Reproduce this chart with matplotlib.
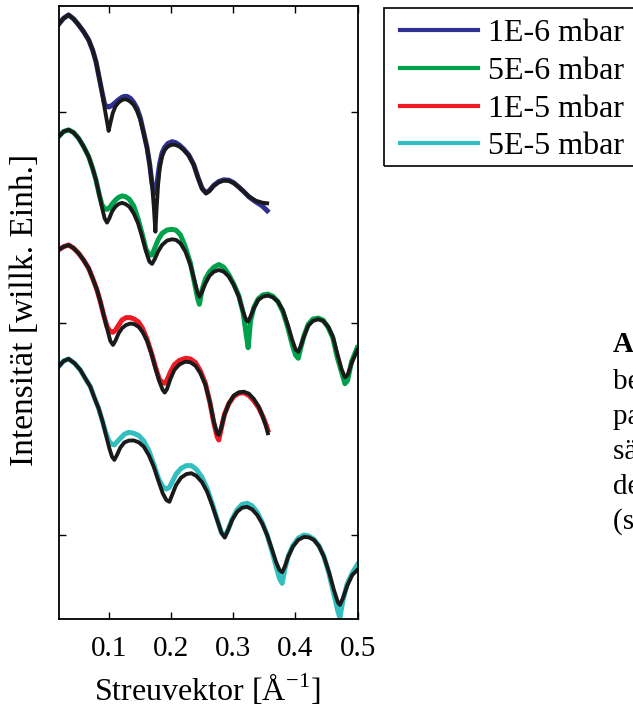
import numpy as np
import matplotlib
matplotlib.use('Agg')
import matplotlib.pyplot as plt
from matplotlib.patches import Rectangle
from matplotlib.ticker import FixedLocator, NullLocator, NullFormatter

plt.rcParams['font.family'] = 'Liberation Serif'
plt.rcParams['mathtext.fontset'] = 'custom'
plt.rcParams['mathtext.rm'] = 'Liberation Serif'

# scattering vector [1/A] and log10 intensity (curves offset per pressure)
q1 = [0.0197, 0.0277, 0.0357, 0.0438, 0.0518, 0.0598, 0.0679, 0.0743, 0.0797, 0.0850,
      0.0893, 0.0936, 0.0974, 0.1000, 0.1027, 0.1065, 0.1108, 0.1161, 0.1215, 0.1252,
      0.1295, 0.1349, 0.1402, 0.1456, 0.1510, 0.1563, 0.1617, 0.1660, 0.1697, 0.1724,
      0.1751, 0.1767, 0.1794, 0.1820, 0.1858, 0.1901, 0.1954, 0.2019, 0.2072, 0.2137,
      0.2206, 0.2287, 0.2367, 0.2437, 0.2501, 0.2565, 0.2619, 0.2689, 0.2769, 0.2849,
      0.2930, 0.3010, 0.3091, 0.3171, 0.3251, 0.3358, 0.3466, 0.3546]
fit1 = [0.413, 0.441, 0.457, 0.438, 0.410, 0.378, 0.339, 0.291, 0.236, 0.158,
        0.094, 0.016, -0.047, -0.091, -0.055, -0.008, 0.024, 0.044, 0.055, 0.058,
        0.057, 0.047, 0.032, 0.003, -0.039, -0.102, -0.173, -0.252, -0.346, -0.441,
        -0.567, -0.472, -0.346, -0.268, -0.212, -0.181, -0.164, -0.156, -0.157, -0.165,
        -0.181, -0.208, -0.252, -0.315, -0.365, -0.386, -0.375, -0.351, -0.334, -0.326,
        -0.327, -0.338, -0.357, -0.378, -0.400, -0.420, -0.430, -0.433]
meas1 = [0.413, 0.441, 0.457, 0.438, 0.410, 0.378, 0.339, 0.291, 0.236, 0.158,
         0.094, 0.035, 0.024, 0.022, 0.025, 0.032, 0.043, 0.057, 0.068, 0.072,
         0.072, 0.063, 0.044, 0.016, -0.031, -0.100, -0.170, -0.250, -0.340, -0.372,
         -0.386, -0.360, -0.300, -0.245, -0.195, -0.168, -0.150, -0.142, -0.146, -0.158,
         -0.177, -0.205, -0.250, -0.312, -0.362, -0.384, -0.372, -0.348, -0.330, -0.322,
         -0.324, -0.336, -0.356, -0.378, -0.402, -0.425, -0.445, -0.468]

q2 = [0.0197, 0.0277, 0.0357, 0.0438, 0.0518, 0.0598, 0.0679, 0.0743, 0.0797, 0.0850,
      0.0893, 0.0936, 0.0974, 0.1011, 0.1054, 0.1108, 0.1161, 0.1215, 0.1268, 0.1333,
      0.1402, 0.1472, 0.1536, 0.1601, 0.1654, 0.1697, 0.1740, 0.1794, 0.1858, 0.1938,
      0.2019, 0.2083, 0.2153, 0.2233, 0.2313, 0.2383, 0.2431, 0.2458, 0.2501, 0.2555,
      0.2619, 0.2689, 0.2769, 0.2849, 0.2930, 0.3010, 0.3091, 0.3160, 0.3208, 0.3241,
      0.3278, 0.3332, 0.3401, 0.3476, 0.3557, 0.3637, 0.3718, 0.3798, 0.3878, 0.3948,
      0.4002, 0.4045, 0.4082, 0.4136, 0.4205, 0.4280, 0.4366, 0.4446, 0.4527, 0.4602,
      0.4671, 0.4741, 0.4795, 0.4838, 0.4902, 0.4993]
fit2 = [-0.118, -0.094, -0.086, -0.099, -0.126, -0.165, -0.212, -0.268, -0.323, -0.393,
        -0.452, -0.504, -0.524, -0.504, -0.472, -0.449, -0.436, -0.431, -0.436, -0.449,
        -0.480, -0.527, -0.590, -0.661, -0.708, -0.719, -0.697, -0.661, -0.630, -0.609,
        -0.603, -0.606, -0.622, -0.661, -0.724, -0.803, -0.858, -0.874, -0.850, -0.811,
        -0.776, -0.756, -0.748, -0.756, -0.779, -0.819, -0.874, -0.945, -0.984, -0.992,
        -0.968, -0.929, -0.890, -0.874, -0.869, -0.877, -0.897, -0.937, -1.008, -1.078,
        -1.123, -1.134, -1.110, -1.063, -1.012, -0.989, -0.981, -0.989, -1.016, -1.063,
        -1.141, -1.217, -1.255, -1.244, -1.189, -1.126]
meas2 = [-0.118, -0.094, -0.086, -0.099, -0.126, -0.165, -0.212, -0.268, -0.323, -0.393,
         -0.440, -0.457, -0.462, -0.455, -0.437, -0.418, -0.405, -0.398, -0.401, -0.414,
         -0.445, -0.505, -0.575, -0.650, -0.677, -0.677, -0.645, -0.606, -0.575, -0.559,
         -0.556, -0.560, -0.582, -0.640, -0.715, -0.815, -0.885, -0.910, -0.840, -0.790,
         -0.757, -0.735, -0.722, -0.735, -0.770, -0.815, -0.870, -0.950, -1.050, -1.115,
         -0.990, -0.925, -0.885, -0.866, -0.862, -0.872, -0.897, -0.945, -1.020, -1.100,
         -1.150, -1.165, -1.120, -1.060, -1.005, -0.980, -0.975, -0.985, -1.020, -1.070,
         -1.160, -1.230, -1.285, -1.270, -1.180, -1.115]

q3 = [0.0197, 0.0277, 0.0357, 0.0438, 0.0518, 0.0598, 0.0679, 0.0743, 0.0813, 0.0866,
      0.0920, 0.0974, 0.1027, 0.1070, 0.1108, 0.1161, 0.1215, 0.1279, 0.1349, 0.1413,
      0.1483, 0.1547, 0.1617, 0.1686, 0.1751, 0.1815, 0.1869, 0.1901, 0.1938, 0.1992,
      0.2056, 0.2137, 0.2233, 0.2313, 0.2394, 0.2474, 0.2555, 0.2624, 0.2689, 0.2742,
      0.2769, 0.2806, 0.2860, 0.2930, 0.3010, 0.3091, 0.3171, 0.3251, 0.3331, 0.3412,
      0.3476, 0.3530, 0.3557]
fit3 = [-0.653, -0.638, -0.630, -0.645, -0.669, -0.701, -0.740, -0.787, -0.842, -0.897,
        -0.960, -1.023, -1.083, -1.102, -1.083, -1.047, -1.023, -1.008, -1.001, -1.004,
        -1.017, -1.042, -1.083, -1.142, -1.212, -1.275, -1.315, -1.327, -1.310, -1.263,
        -1.220, -1.194, -1.181, -1.184, -1.200, -1.236, -1.291, -1.370, -1.464, -1.519,
        -1.527, -1.496, -1.433, -1.378, -1.341, -1.326, -1.323, -1.332, -1.357, -1.394,
        -1.441, -1.488, -1.519]
meas3 = [-0.653, -0.638, -0.630, -0.645, -0.669, -0.701, -0.740, -0.787, -0.842, -0.897,
         -0.960, -1.015, -1.040, -1.042, -1.033, -1.008, -0.984, -0.973, -0.973, -0.980,
         -0.995, -1.025, -1.075, -1.138, -1.205, -1.265, -1.280, -1.283, -1.268, -1.230,
         -1.195, -1.175, -1.165, -1.168, -1.185, -1.225, -1.285, -1.370, -1.470, -1.535,
         -1.551, -1.500, -1.430, -1.380, -1.345, -1.330, -1.328, -1.340, -1.365, -1.400,
         -1.440, -1.480, -1.505]

q4 = [0.0197, 0.0277, 0.0357, 0.0454, 0.0545, 0.0625, 0.0706, 0.0775, 0.0840, 0.0904,
      0.0958, 0.1011, 0.1054, 0.1092, 0.1134, 0.1188, 0.1252, 0.1322, 0.1402, 0.1483,
      0.1563, 0.1644, 0.1724, 0.1804, 0.1869, 0.1928, 0.1976, 0.2019, 0.2083, 0.2163,
      0.2249, 0.2329, 0.2410, 0.2501, 0.2581, 0.2662, 0.2742, 0.2812, 0.2865, 0.2919,
      0.2983, 0.3064, 0.3144, 0.3224, 0.3305, 0.3385, 0.3466, 0.3546, 0.3627, 0.3691,
      0.3744, 0.3787, 0.3830, 0.3884, 0.3959, 0.4045, 0.4136, 0.4216, 0.4296, 0.4377,
      0.4457, 0.4537, 0.4618, 0.4682, 0.4714, 0.4762, 0.4832, 0.4912, 0.4993]
fit4 = [-1.204, -1.178, -1.168, -1.189, -1.220, -1.260, -1.299, -1.354, -1.402, -1.465,
        -1.528, -1.590, -1.630, -1.645, -1.622, -1.587, -1.563, -1.554, -1.553, -1.562,
        -1.582, -1.622, -1.677, -1.748, -1.803, -1.835, -1.843, -1.811, -1.764, -1.729,
        -1.712, -1.708, -1.721, -1.751, -1.795, -1.858, -1.929, -1.989, -2.012, -1.976,
        -1.929, -1.890, -1.871, -1.867, -1.879, -1.905, -1.945, -2.000, -2.071, -2.129,
        -2.165, -2.176, -2.149, -2.102, -2.055, -2.023, -2.009, -2.011, -2.023, -2.052,
        -2.102, -2.173, -2.260, -2.318, -2.330, -2.299, -2.239, -2.189, -2.165]
meas4 = [-1.204, -1.178, -1.168, -1.189, -1.220, -1.260, -1.299, -1.354, -1.402, -1.465,
         -1.520, -1.559, -1.571, -1.574, -1.560, -1.543, -1.524, -1.515, -1.519, -1.530,
         -1.555, -1.600, -1.665, -1.735, -1.771, -1.783, -1.775, -1.750, -1.712, -1.685,
         -1.672, -1.672, -1.690, -1.728, -1.780, -1.850, -1.925, -1.990, -2.005, -1.975,
         -1.925, -1.880, -1.855, -1.850, -1.862, -1.892, -1.940, -2.000, -2.080, -2.150,
         -2.205, -2.228, -2.160, -2.100, -2.050, -2.015, -2.000, -2.005, -2.020, -2.050,
         -2.100, -2.180, -2.280, -2.360, -2.390, -2.310, -2.230, -2.180, -2.140]

labels = ['1E-6 mbar', '5E-6 mbar', '1E-5 mbar', '5E-5 mbar']
colors = ['#2E3192', '#00A14B', '#ED1C24', '#33BFBF']
xticks = [0.1, 0.2, 0.3, 0.4, 0.5]

fig = plt.figure(figsize=(6.33, 7.07), dpi=100)
ax = fig.add_axes([59 / 633, 1 - 619.3 / 707, 298.7 / 633, 613.3 / 707])

for q, meas, fit, c, lab in zip([q1, q2, q3, q4], [meas1, meas2, meas3, meas4],
                                [fit1, fit2, fit3, fit4], colors, labels):
    ax.plot(q, 10 ** np.array(meas), color=c, lw=3.6, label=lab)
    ax.plot(q, 10 ** np.array(fit), color='#1a1a1a', lw=2.8)

ax.set_yscale('log')
ax.set_xlim(0.0203, 0.5)
ax.set_ylim(10 ** -2.398, 10 ** 0.499)
ax.set_xticks(xticks)
ax.set_xticklabels([str(t) for t in xticks])
ax.yaxis.set_major_locator(FixedLocator([1, 0.1, 0.01]))
ax.yaxis.set_minor_locator(NullLocator())
ax.yaxis.set_major_formatter(NullFormatter())
ax.tick_params(direction='in', top=True, right=True, length=5, width=1,
               labelsize=21, pad=12)
for s in ax.spines.values():
    s.set_linewidth(1.3)

fig.text(207 / 633, 1 - 690 / 707, 'Streuvektor [Å$^{-1}$]',
         ha='center', va='center', fontsize=23)
fig.text(25 / 633, 1 - 310 / 707, 'Intensität [willk. Einh.]', rotation=90,
         ha='center', va='center', fontsize=24)

# legend entries without frame; the box runs past the right edge
leg = fig.legend(loc='upper left', bbox_to_anchor=(400 / 633, 1 - 19 / 707),
                 bbox_transform=fig.transFigure, borderaxespad=0, borderpad=0,
                 fontsize=23, frameon=False, handlelength=2.45,
                 handletextpad=0.31, labelspacing=0.26)
for line in leg.get_lines():
    line.set_linewidth(3.0)
fig.add_artist(Rectangle((384 / 633, 1 - 166 / 707), 300 / 633, 158 / 707,
                         transform=fig.transFigure, fill=False,
                         edgecolor='black', lw=1.2))

# caption running off the right edge
fig.text(613 / 633, 1 - 345 / 707, 'Abbildung 5.4: Röntgenreflektivität',
         fontweight='bold', va='center', fontsize=21)
caption = ['bei verschiedenen Sauerstoff-', 'partialdrücken. Die Schichtdicke',
           'sättigt sich mit steigendem Druck,', 'der Fit beschreibt die Daten gut',
           '(siehe Tabelle 5.2).']
for i, line in enumerate(caption):
    fig.text(613 / 633, 1 - (382 + 35 * i) / 707, line, va='center', fontsize=21)

fig.savefig('out.png', dpi=100)
